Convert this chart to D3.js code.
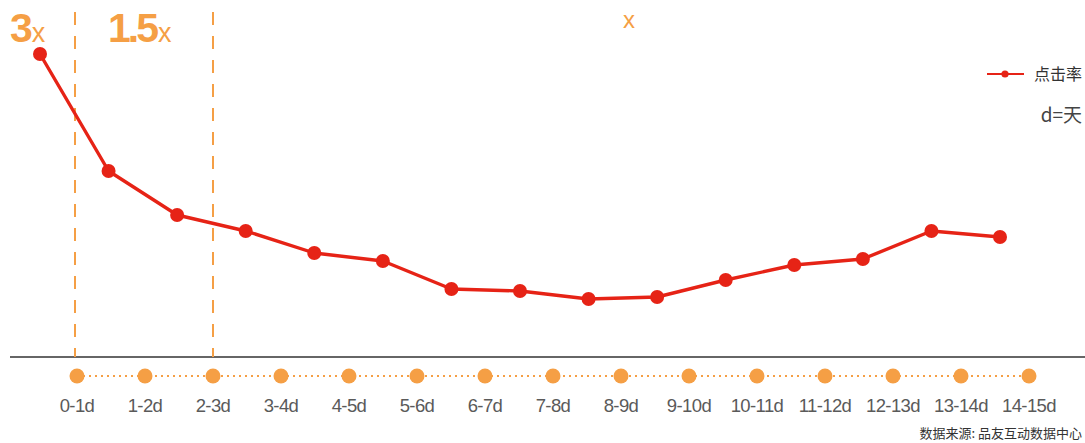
<!DOCTYPE html>
<html>
<head>
<meta charset="utf-8">
<script src="https://cdn.jsdelivr.net/npm/d3@7/dist/d3.min.js"></script>
<style>
  html, body { margin: 0; padding: 0; background: #fff; }
  svg { display: block; }
</style>
</head>
<body>
<svg id="chart" width="1085" height="443"></svg>
<script>
// Day buckets (d = 天)
const categories = ["0-1d","1-2d","2-3d","3-4d","4-5d","5-6d","6-7d","7-8d","8-9d","9-10d","10-11d","11-12d","12-13d","13-14d","14-15d"];
// Relative click-through rate per bucket
const clickRate = [3.03, 1.86, 1.42, 1.26, 1.04, 0.96, 0.68, 0.66, 0.58, 0.60, 0.77, 0.92, 0.98, 1.26, 1.20];
// Segment multipliers shown along the top
const segmentLabels = [
  { big: "3", small: "x" },
  { big: "1.5", small: "x" },
  { big: "", small: "x" }
];
const boundaries = [0, 2];
const legendName = "点击率";
const unitNote = "d=天";
const sourceNote = "数据来源: 品友互动数据中心";

const W = 1085, H = 443;
const svg = d3.select("#chart");
const orange = "#f59f45";
const red = "#e62316";
const font = "'Liberation Sans', Arial, sans-serif";
const cjk = "'Noto Sans CJK SC', sans-serif";

// Axis row (orange dots) and line points
const xAxis = d3.scalePoint().domain(categories).range([77, 1029]);
const xLine = d3.scalePoint().domain(categories).range([40, 1000]);
const y = d3.scaleLinear().domain([0, 3.5]).range([357, 7]);

// Baseline
svg.append("line")
  .attr("x1", 10).attr("x2", W).attr("y1", 357).attr("y2", 357)
  .attr("stroke", "#333").attr("stroke-width", 1.3);

// Vertical dashed boundaries
svg.selectAll("line.boundary").data(boundaries).join("line")
  .attr("class", "boundary")
  .attr("x1", d => xAxis(categories[d]) - (d === 0 ? 2 : 0))
  .attr("x2", d => xAxis(categories[d]) - (d === 0 ? 2 : 0))
  .attr("y1", 12).attr("y2", 357)
  .attr("stroke", orange).attr("stroke-width", 2)
  .attr("stroke-dasharray", "13,11");

// Segment labels
const segX = [10, 108, 623];
segmentLabels.forEach((s, i) => {
  const t = svg.append("text")
    .attr("x", segX[i]).attr("y", 42)
    .attr("fill", orange).attr("font-family", font);
  if (s.big) {
    t.append("tspan").text(s.big)
      .attr("font-size", 41).attr("font-weight", "bold").attr("letter-spacing", -3);
    t.append("tspan").text(s.small).attr("font-size", 27).attr("dx", 2);
  } else {
    t.attr("y", 28).append("tspan").text(s.small).attr("font-size", 24);
  }
});

// Dotted connector along the category row
svg.append("line")
  .attr("x1", xAxis(categories[0])).attr("x2", xAxis(categories[categories.length - 1]))
  .attr("y1", 376).attr("y2", 376)
  .attr("stroke", orange).attr("stroke-width", 2)
  .attr("stroke-dasharray", "2,4");

svg.selectAll("circle.cat").data(categories).join("circle")
  .attr("class", "cat")
  .attr("cx", d => xAxis(d)).attr("cy", 376).attr("r", 7.5)
  .attr("fill", orange);

svg.selectAll("text.cat").data(categories).join("text")
  .attr("class", "cat")
  .attr("x", d => xAxis(d)).attr("y", 412)
  .attr("text-anchor", "middle")
  .attr("font-family", font).attr("font-size", 18.5)
  .attr("fill", "#5a5a5a").attr("letter-spacing", -0.6)
  .text(d => d);

// Click-rate line
const pts = categories.map((c, i) => [xLine(c), y(clickRate[i])]);
svg.append("path")
  .attr("d", d3.line()(pts))
  .attr("fill", "none").attr("stroke", red).attr("stroke-width", 3.4)
  .attr("stroke-linejoin", "round");
svg.selectAll("circle.pt").data(pts).join("circle")
  .attr("class", "pt")
  .attr("cx", d => d[0]).attr("cy", d => d[1]).attr("r", 7)
  .attr("fill", red);

// Legend
svg.append("line").attr("x1", 987).attr("x2", 1024).attr("y1", 74).attr("y2", 74)
  .attr("stroke", red).attr("stroke-width", 2.2);
svg.append("circle").attr("cx", 1005).attr("cy", 74).attr("r", 3.6).attr("fill", red);
svg.append("text").attr("x", 1034).attr("y", 80)
  .attr("font-family", cjk).attr("font-size", 16)
  .attr("fill", "#333").text(legendName);
svg.append("text").attr("x", 1082).attr("y", 122).attr("text-anchor", "end")
  .attr("font-family", cjk).attr("font-size", 19)
  .attr("fill", "#444").text(unitNote);

// Source
svg.append("text").attr("x", 1082).attr("y", 438).attr("text-anchor", "end")
  .attr("font-family", cjk).attr("font-size", 13)
  .attr("fill", "#333").text(sourceNote);
</script>
</body>
</html>
